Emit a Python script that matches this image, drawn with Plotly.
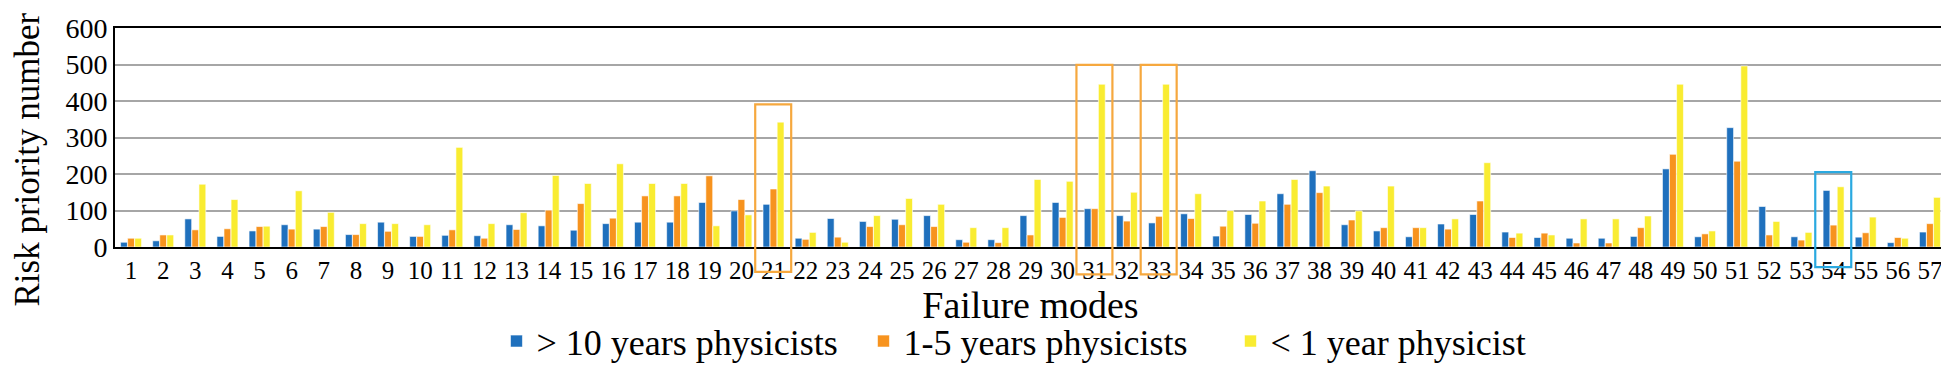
import plotly.graph_objects as go

# ---- data ----
modes = [str(i) for i in range(1, 58)]
senior = [13, 17, 77, 29, 44, 61, 49, 34, 68, 29, 32, 31, 61, 58, 46, 64, 68, 68, 122, 99,
          117, 24, 78, 70, 76, 86, 20, 20, 86, 122, 105, 86, 66, 91, 30, 89, 146, 209, 61, 44,
          28, 63, 89, 41, 26, 24, 24, 29, 214, 28, 327, 111, 28, 155, 27, 12, 41]
mid = [24, 33, 47, 50, 56, 49, 56, 34, 43, 29, 47, 24, 48, 101, 119, 79, 140, 140, 195, 130,
       159, 21, 27, 56, 61, 56, 13, 12, 33, 81, 105, 71, 84, 78, 57, 65, 117, 149, 74, 53,
       53, 49, 126, 26, 38, 11, 11, 53, 254, 36, 235, 33, 19, 60, 39, 26, 64]
junior = [24, 33, 172, 130, 57, 154, 95, 64, 64, 61, 273, 64, 94, 196, 174, 228, 174, 174, 58, 88,
          342, 40, 13, 86, 133, 117, 53, 53, 185, 180, 446, 150, 446, 146, 100, 126, 185, 167, 99, 167,
          53, 77, 231, 38, 33, 77, 77, 85, 446, 44, 496, 70, 40, 165, 82, 24, 136]
series_names = ["> 10 years physicists", "1-5 years physicists", "< 1 year physicist"]

# highlight boxes: (category, top value, bottom value)
box_modes = [21, 31, 33, 54]
box_tops = [391, 499, 499, 205]
box_bottoms = [-68, -75, -75, -55]
box_colors = ["#F6A83E", "#F6A83E", "#F6A83E", "#2AA9E0"]

YMAX = 600
colors = ["#1F70BD", "#F7931E", "#F9EC31"]
FONT = "Liberation Serif"

xs = list(range(1, len(modes) + 1))
fig = go.Figure()
for name, vals, c in zip(series_names, [senior, mid, junior], colors):
    fig.add_trace(go.Bar(x=xs, y=vals, name=name, marker=dict(color=c, line=dict(color="white", width=0.6))))

for m, top, bot, col in zip(box_modes, box_tops, box_bottoms, box_colors):
    fig.add_shape(type="rect", xref="x", yref="paper",
                  x0=m - 0.57, x1=m + 0.55, y0=bot / YMAX, y1=top / YMAX,
                  line=dict(color=col, width=2.2), fillcolor="rgba(0,0,0,0)", layer="above")

fig.add_annotation(text="Risk priority number", textangle=-90, xref="paper", yref="paper",
                   x=-0.048, y=0.40, xanchor="center", yanchor="middle", showarrow=False,
                   font=dict(family=FONT, size=35, color="black"))

fig.update_layout(
    width=1942, height=365,
    margin=dict(l=107, r=2, t=20, b=118),
    plot_bgcolor="white", paper_bgcolor="white",
    barmode="group", bargap=0.34, bargroupgap=0.03,
    font=dict(family=FONT, color="black"),
    showlegend=True,
    legend=dict(orientation="h", x=0.509, xanchor="center", y=-0.43, yanchor="middle",
                font=dict(family=FONT, size=36), itemclick=False, traceorder="normal",
                entrywidth=322, entrywidthmode="pixels"),
    xaxis=dict(range=[0.5, len(modes) + 0.5], tickmode="array", tickvals=xs, ticktext=modes,
               showline=True, linecolor="black", linewidth=2, mirror=True, showgrid=False,
               ticks="", tickfont=dict(family=FONT, size=25), zeroline=False,
               title=dict(text="Failure modes", font=dict(family=FONT, size=38), standoff=8)),
    yaxis=dict(range=[0, YMAX], dtick=100, showline=True, linecolor="black", linewidth=2, mirror=True,
               showgrid=True, gridcolor="#A6A6A6", gridwidth=2, zeroline=False, ticks="",
               tickfont=dict(family=FONT, size=28)),
)

fig.write_html("out.html")
